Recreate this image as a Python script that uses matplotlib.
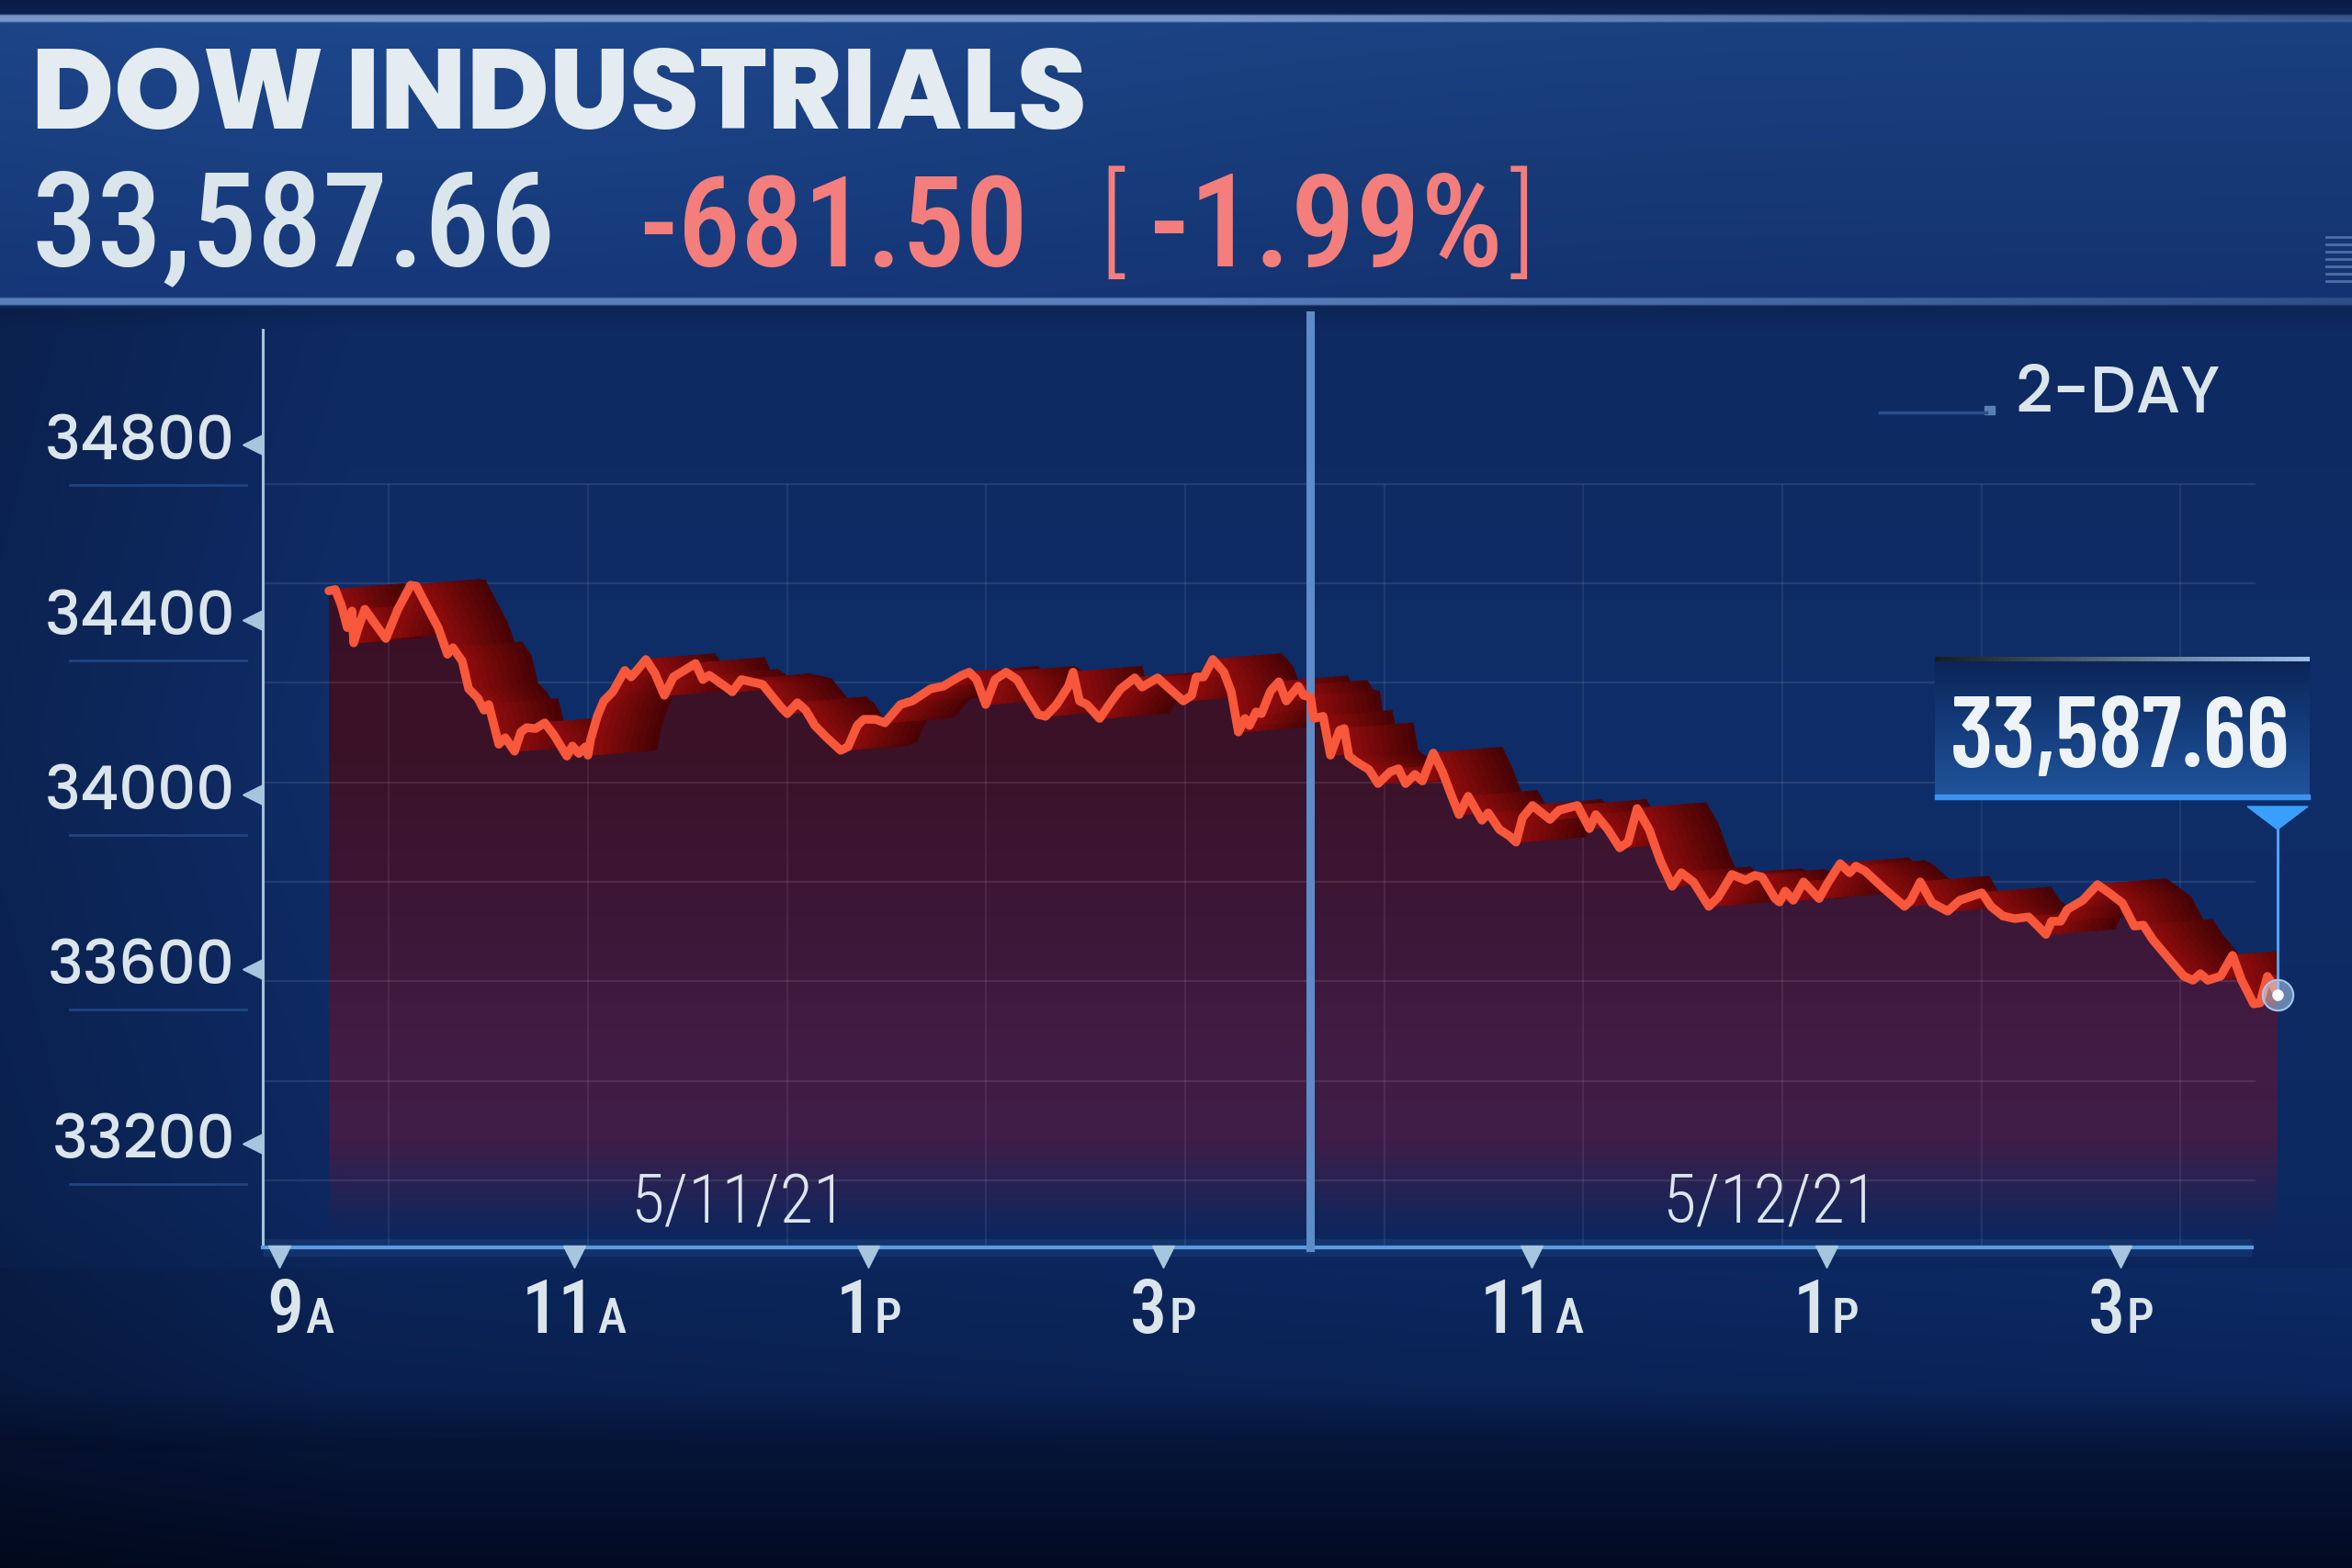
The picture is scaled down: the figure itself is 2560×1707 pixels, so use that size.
import numpy as np
import matplotlib
matplotlib.use("Agg")
import matplotlib.pyplot as plt
import matplotlib.transforms as mtrans
from matplotlib import font_manager
from matplotlib.collections import PolyCollection
from matplotlib.offsetbox import TextArea, HPacker, AnnotationBbox
from matplotlib.patches import Rectangle, Polygon

W, H = 2560, 1707

# values: minutes after 9:00 in each session, index level
day1_min = [20.2, 22.8, 25.4, 27.7, 29.6, 30.3, 32.2, 34.8, 38.5, 43.4,
            48.3, 53.5, 55.8, 59.5, 64.7, 68.5, 70.7, 74.5, 77.1, 80.8,
            83.4, 85.3, 87.2, 89.4, 92.0, 95.8, 98.4, 100.7, 104.4, 108.1,
            111.9, 117.1, 119.4, 122.0, 124.6, 125.7, 126.8, 129.5, 132.1, 135.8,
            140.7, 143.3, 145.6, 149.3, 153.0, 156.8, 160.5, 169.5, 172.5, 175.1,
            181.9, 184.5, 188.2, 196.8, 204.3, 206.9, 211.0, 214.4, 218.1, 223.0,
            228.6, 231.6, 235.4, 238.0, 242.8, 246.6, 253.0, 257.8, 265.3, 270.5,
            272.8, 278.0, 281.0, 284.0, 287.7, 291.5, 296.0, 300.5, 304.2, 309.1,
            312.1, 316.6, 321.4, 323.3, 325.9, 328.9, 334.1, 339.0, 342.7, 348.4,
            351.4, 357.7, 362.6, 368.2, 371.6, 373.4, 376.4, 380.2, 384.7, 387.7,
            390.6, 393.3, 395.1, 397.8, 400.0, 403.7, 407.1, 410.1, 415.0, 417.2, 420.0]
day1_val = [34512, 34515, 34477, 34428, 34466, 34393, 34428, 34470, 34441, 34403,
            34470, 34525, 34523, 34483, 34428, 34367, 34382, 34351, 34288, 34267,
            34239, 34252, 34210, 34161, 34176, 34145, 34189, 34199, 34197, 34210,
            34182, 34134, 34157, 34140, 34155, 34136, 34172, 34225, 34260, 34281,
            34330, 34315, 34330, 34355, 34323, 34273, 34315, 34346, 34309, 34319,
            34292, 34281, 34309, 34298, 34246, 34231, 34256, 34239, 34204, 34176,
            34147, 34155, 34204, 34218, 34218, 34210, 34252, 34260, 34288, 34294,
            34302, 34319, 34326, 34309, 34252, 34309, 34326, 34309, 34273, 34229,
            34225, 34252, 34294, 34326, 34260, 34252, 34220, 34260, 34288, 34313,
            34292, 34313, 34288, 34260, 34273, 34315, 34315, 34355, 34326, 34281,
            34189, 34220, 34204, 34235, 34231, 34283, 34304, 34260, 34294, 34273, 34269]
day2_min = [31.3, 35.1, 38.1, 41.8, 43.7, 45.6, 48.9, 53.8, 57.5, 62.4,
            65.8, 68.7, 72.5, 75.5, 80.0, 83.7, 87.5, 90.5, 94.2, 99.8,
            102.4, 106.9, 111.0, 113.7, 116.3, 120.4, 127.5, 131.2, 138.7, 143.6,
            146.2, 151.1, 155.9, 159.3, 163.0, 167.9, 172.4, 177.3, 181.0, 185.9,
            192.2, 196.0, 201.6, 207.2, 210.9, 213.9, 219.2, 221.0, 223.3, 226.6,
            230.8, 237.1, 240.9, 245.7, 249.5, 252.1, 255.8, 263.3, 271.9, 274.5,
            278.3, 283.1, 289.5, 294.4, 303.4, 307.1, 312.0, 316.8, 322.4, 326.2,
            329.5, 331.8, 335.5, 338.2, 344.5, 350.5, 355.7, 360.6, 365.5, 369.2,
            373.0, 379.3, 385.7, 389.4, 392.4, 395.4, 400.6, 405.5, 409.2, 414.1,
            416.7, 419.7, 421.6, 423.8]
day2_val = [34220, 34225, 34136, 34193, 34197, 34134, 34120, 34103, 34071, 34098,
            34105, 34071, 34092, 34077, 34141, 34098, 34042, 34000, 34042, 33987,
            34004, 33966, 33951, 33937, 33993, 34021, 33989, 34010, 34021, 33968,
            34000, 33966, 33924, 33937, 34014, 33966, 33895, 33836, 33867, 33846,
            33790, 33811, 33863, 33850, 33861, 33857, 33808, 33800, 33825, 33804,
            33846, 33808, 33846, 33888, 33867, 33882, 33871, 33832, 33790, 33804,
            33846, 33798, 33779, 33804, 33821, 33790, 33768, 33762, 33766, 33745,
            33726, 33756, 33756, 33783, 33804, 33840, 33819, 33798, 33745, 33747,
            33714, 33672, 33630, 33621, 33636, 33621, 33630, 33678, 33621, 33567,
            33569, 33630, 33615, 33587.66]

last_value = 33587.66
net_change = -681.50
pct_change = -1.99

y_ticks = [33200, 33600, 34000, 34400, 34800]
x_tick_day = [1, 1, 1, 1, 2, 2, 2]
x_tick_hour = [9, 11, 13, 15, 11, 13, 15]
x_tick_num = ["9", "11", "1", "3", "11", "1", "3"]
x_tick_ampm = ["A", "A", "P", "P", "A", "P", "P"]
session_dates = ["5/11/21", "5/12/21"]

# ---- layout (pixels of the 2560x1707 frame) ----------------------------
PX_H = 160.35          # px per trading hour
X0 = 304               # px of the 9A tick
Y_LAST = 1083          # px height of the closing value
PTS_PX = 2.102         # index points per px
DAY2_START = 7.0       # axis hours where day 2 (9:30) begins

def axis_hours(day, minutes):
    m = np.asarray(minutes, float)
    return m / 60 if day == 1 else DAY2_START + (m - 30) / 60

def v_px(y):
    return last_value + (Y_LAST - y) * PTS_PX

def hex2rgb(h):
    return np.array([int(h[i:i + 2], 16) for i in (1, 3, 5)]) / 255

def stops_interp(pos, stops):
    p = np.array([s[0] for s in stops], float)
    c = np.array([hex2rgb(s[1]) for s in stops])
    return np.stack([np.interp(pos, p, c[:, k]) for k in range(3)], axis=-1)

ttf = font_manager.fontManager.ttflist

def pick(cands, weight):
    for c in cands:
        if str(weight) in {str(f.weight) for f in ttf if f.name == c}:
            return c
    return "DejaVu Sans"

F_HEAVY = pick(["Poppins", "Lato", "Nunito Sans", "Work Sans", "Mulish"], 800)
F_WIDE = pick(["Poppins", "Lato", "Work Sans", "Nunito Sans"], 500)
F_COND = pick(["Roboto Condensed", "Fira Sans Condensed", "Encode Sans Condensed"], 500)
F_TIGHT = pick(["Barlow Condensed", "Roboto Condensed", "Fira Sans Condensed"], 600)

fig = plt.figure(figsize=(W / 100, H / 100), dpi=100)

# background
ys = np.arange(H // 2) * 2 + 1.0
xs = np.arange(W // 2) * 2 + 1.0
col = stops_interp(ys, [(0, "#0a1c46"), (15, "#0c2250"), (24, "#1b407f"), (180, "#173a76"),
                        (324, "#14326f"), (336, "#0c2556"), (360, "#0e2a62"), (800, "#0f2d68"),
                        (1300, "#0d2961"), (1420, "#0b2559"), (1510, "#0a2152"),
                        (1570, "#061538"), (1707, "#030b22")])
img = np.repeat(col[:, None, :], xs.size, axis=1)
hdr = (ys > 24) & (ys < 324)
img[hdr] *= (1 + 0.10 * np.exp(-((xs - 500) / 800) ** 2))[None, :, None]
chart = ys > 336
img[chart] *= (0.80 + 0.20 * np.clip(xs / 380, 0, 1))[None, :, None]
low = (ys > 1380) & (ys < 1580)
img[low] *= (0.92 + 0.18 * xs / W)[None, :, None]
for y0, y1, c, a0, a1 in [(16, 23, "#88a8d8", 0.85, 0.30), (325, 332, "#6189c4", 0.9, 0.35)]:
    rows = (ys >= y0) & (ys <= y1)
    a = np.interp(xs, [0, 1300, W], [a0, a0, a1])[None, :, None]
    img[rows] = img[rows] * (1 - a) + hex2rgb(c) * a
img = np.clip(img, 0, 1)

bg = fig.add_axes([0, 0, 1, 1], zorder=0)
bg.imshow(img, extent=(0, W, H, 0), aspect="auto", interpolation="bilinear")
bg.set_xlim(0, W); bg.set_ylim(H, 0); bg.axis("off")

# main axes
ax = fig.add_axes([286 / W, 1 - 1358 / H, (2500 - 286) / W, (1358 - 359) / H], zorder=5)
ax.patch.set_alpha(0)
x_lo, x_hi = (286 - X0) / PX_H, (2500 - X0) / PX_H
y_lo, y_hi = v_px(1358), v_px(359)
ax.set_xlim(x_lo, x_hi); ax.set_ylim(y_lo, y_hi)
ax.set_xticks([]); ax.set_yticks([])
for s in ("top", "right"):
    ax.spines[s].set_visible(False)
ax.spines["left"].set_color("#a7c3dd"); ax.spines["left"].set_linewidth(2.2)
x_axis_end = (2451 - X0) / PX_H
ax.spines["bottom"].set_color("#5a9be0"); ax.spines["bottom"].set_linewidth(3)
ax.spines["bottom"].set_bounds(x_lo, x_axis_end)
ax.plot([x_lo, x_axis_end], [y_lo, y_lo], color="#4a90e0", lw=14, alpha=0.12,
        clip_on=False, zorder=1, solid_capstyle="butt")

def shift(dx, dy):
    return mtrans.ScaledTranslation(dx / 100, dy / 100, fig.dpi_scale_trans)

t_all = np.concatenate([axis_hours(1, day1_min), axis_hours(2, day2_min)])
v_all = np.concatenate([day1_val, day2_val]).astype(float)
t_end, v_end = t_all[-1], v_all[-1]

# gradient fill under the line
fill_stops = [(600, "#3b1025"), (820, "#3a1228"), (1000, "#3d1737"), (1150, "#421c44"),
              (1250, "#3f1e48"), (1358, "#2a1f50")]
rows_px = np.arange(600, 1359, 2.0)
fill_rgb = stops_interp(rows_px, fill_stops)
alpha = np.interp(rows_px, [600, 1240, 1300, 1350], [1, 1, 0.55, 0.0])
fill_img = np.concatenate([fill_rgb, alpha[:, None]], axis=1)[:, None, :]
im = ax.imshow(fill_img, extent=(t_all[0], t_end, v_px(1358), v_px(600)),
               aspect="auto", interpolation="bilinear", zorder=2)
poly = Polygon(np.column_stack([np.r_[t_all, t_end, t_all[0]], np.r_[v_all, y_lo, y_lo]]),
               closed=True, transform=ax.transData)
im.set_clip_path(poly)
ax.set_xlim(x_lo, x_hi); ax.set_ylim(y_lo, y_hi)

# decorative grid
gy = v_px(1068.3) + np.arange(-2, 6) * 108.33 * PTS_PX
gx = (423.3 - X0) / PX_H + np.arange(0, 10) * 216.67 / PX_H
ax.hlines(gy, x_lo, (2455 - X0) / PX_H, colors=[(1, 1, 1, 0.09)], lw=1.6, zorder=2.5)
ax.vlines(gx, y_lo, gy.max(), colors=[(1, 1, 1, 0.07)], lw=1.6, zorder=2.5)

# extruded ribbon behind the line, shaded from the far edge to the near edge
DX, DY = 75 / PX_H, 6 * PTS_PX
clip = Rectangle((t_all[0], y_lo), t_end - t_all[0], y_hi - y_lo, transform=ax.transData)
n_layers = 10
shade = stops_interp(np.linspace(0, 1, n_layers), [(0, "#4a0305"), (0.5, "#6a0708"), (1, "#8e0c0d")])
edges = np.linspace(1, 0, n_layers + 1)
for k in range(n_layers):
    a, b = edges[k], edges[k + 1]
    quads = []
    for i in range(len(t_all) - 1):
        quads.append([(t_all[i] + a * DX, v_all[i] + a * DY),
                      (t_all[i + 1] + a * DX, v_all[i + 1] + a * DY),
                      (t_all[i + 1] + b * DX, v_all[i + 1] + b * DY),
                      (t_all[i] + b * DX, v_all[i] + b * DY)])
    pc = PolyCollection(quads, facecolors=[shade[k]], edgecolors=[shade[k]],
                        linewidths=0.8, zorder=3)
    ax.add_collection(pc)
    pc.set_clip_path(clip)

ax.axvline(DAY2_START, ymin=0, ymax=1.016, color="#5d8cc8", lw=6.5, zorder=4.5, clip_on=False)
ax.plot(t_all, v_all, color="#f7573a", lw=6.8, solid_joinstyle="round",
        solid_capstyle="round", zorder=6)

SILVER = "#dbe5ec"
SALMON = "#f47e7b"

renderer = fig.canvas.get_renderer()

def fit(t, width):
    w = t.get_window_extent(renderer).width
    t.set_fontsize(t.get_fontsize() * width / w)
    return t

# y labels
ytr = mtrans.blended_transform_factory(ax.transAxes, ax.transData)
ylabels = []
for v in y_ticks:
    ylabels.append(ax.text(0, v, f"{v}", transform=ytr + shift(-30, 22), ha="right",
                           va="center", fontsize=44, color=SILVER, family=F_WIDE,
                           fontweight=500, clip_on=False))
    ax.plot([-0.0949, -0.0081], [v, v], transform=ytr + shift(0, -22), color="#1f4583",
            lw=2, clip_on=False)
fit(ylabels[-1], 207)
for t in ylabels[:-1]:
    t.set_fontsize(ylabels[-1].get_fontsize())
ax.plot([0] * len(y_ticks), y_ticks, ls="", marker="<", ms=16, color="#a6c6df",
        transform=ytr + shift(-11, 22), clip_on=False, zorder=7)

# x ticks and labels
t_ticks = [(h - 9) if d == 1 else DAY2_START + (h - 9.5) for d, h in zip(x_tick_day, x_tick_hour)]
ax.plot(t_ticks, [y_lo] * len(t_ticks), ls="", marker="v", ms=17, color="#a6c6df",
        transform=ax.transData + shift(0, -10), clip_on=False, zorder=7)
xtr = ax.get_xaxis_transform()
for i, (t, num, ap) in enumerate(zip(t_ticks, x_tick_num, x_tick_ampm)):
    box = HPacker(children=[TextArea(num, textprops=dict(color=SILVER, fontsize=58, family=F_COND,
                                                           fontweight=500)),
                            TextArea(ap, textprops=dict(color=SILVER, fontsize=38, family=F_COND,
                                                          fontweight=500))],
                  align="baseline", pad=0, sep=1)
    ab = AnnotationBbox(box, (t, 0), xycoords=xtr, xybox=(23 if i == 0 else 0, -71),
                        boxcoords="offset pixels", frameon=False, box_alignment=(0.5, 0.5),
                        annotation_clip=False, zorder=7)
    ax.add_artist(ab)

dtr = mtrans.blended_transform_factory(ax.transData, ax.transAxes)
for start, label in zip([0.0, DAY2_START], session_dates):
    ax.text(start + 3.12, 0.047, label, transform=dtr, ha="center", va="center",
            fontsize=54, color=SILVER, family=F_COND, fontweight=300)

# closing marker
ax.plot([t_end, t_end], [v_end, v_px(903)], color="#4ba6f2", lw=2.2, zorder=8)
ax.plot(t_end, v_end, "o", ms=24, mfc=(0.75, 0.87, 0.97, 0.5), mec="#9fcaf0", mew=1.5,
        zorder=9, clip_on=False)
ax.plot(t_end, v_end, "o", ms=8, mfc="white", mec="white", zorder=10, clip_on=False)

# overlay in pixel coordinates
ov = fig.add_axes([0, 0, 1, 1], zorder=10)
ov.patch.set_alpha(0); ov.set_autoscale_on(False)
ov.set_xlim(0, W); ov.set_ylim(H, 0); ov.axis("off")

fit(ov.text(34, 140, "DOW INDUSTRIALS", fontsize=75, fontweight=800, family=F_HEAVY,
            color="#e4ecf1", va="baseline"), 1150)
fit(ov.text(34, 290, f"{last_value:,.2f}", fontsize=80, family=F_COND, fontweight=500,
            color=SILVER, va="baseline"), 570)
fit(ov.text(695, 290, f"{net_change:.2f}", fontsize=80, family=F_COND, fontweight=500,
            color=SALMON, va="baseline"), 424)
ov.text(1196, 284, "[", fontsize=92, family=F_COND, fontweight=300, color=SALMON, va="baseline")
fit(ov.text(1251, 290, f"{pct_change:.2f}%", fontsize=80, family=F_COND, fontweight=500,
            color=SALMON, va="baseline"), 385)
ov.text(1643, 284, "]", fontsize=92, family=F_COND, fontweight=300, color=SALMON, va="baseline")
for yy in range(258, 312, 8):
    ov.plot([2532, 2560], [yy, yy], color="#4d6fa8", lw=2)

fit(ov.text(2193, 449, "2-DAY", fontsize=55, family=F_WIDE, fontweight=500, color=SILVER,
            va="baseline"), 223)
ov.plot([2046, 2162], [449, 449], color="#2b4e8c", lw=2.5)
ov.add_patch(Rectangle((2160, 442), 11, 9, color="#5a7fb5"))

# callout box
box_grad = stops_interp(np.linspace(0, 1, 64), [(0, "#0b2455"), (0.55, "#163f80"), (1, "#21559c")])
ov.imshow(box_grad[:, None, :], extent=(2106, 2514, 870, 716), aspect="auto", zorder=2)
ov.imshow(np.linspace(0.15, 1, 64)[None, :, None] * np.ones((1, 1, 3)) * hex2rgb("#9cc0e8"),
          extent=(2106, 2514, 720, 715), aspect="auto", zorder=3)
ov.add_patch(Rectangle((2106, 865), 408, 5, color="#3e93f0", zorder=3))
ov.add_patch(Polygon([(2446, 878), (2512, 878), (2479, 903)], closed=True, color="#3aa0ff", zorder=3))
fit(ov.text(2308, 835, f"{last_value:,.2f}", fontsize=80, family=F_TIGHT, fontweight=600,
            color="#eef3f7", va="baseline", ha="center", zorder=4), 370)
ov.set_xlim(0, W); ov.set_ylim(H, 0)

fig.savefig("out.png", dpi=100)
